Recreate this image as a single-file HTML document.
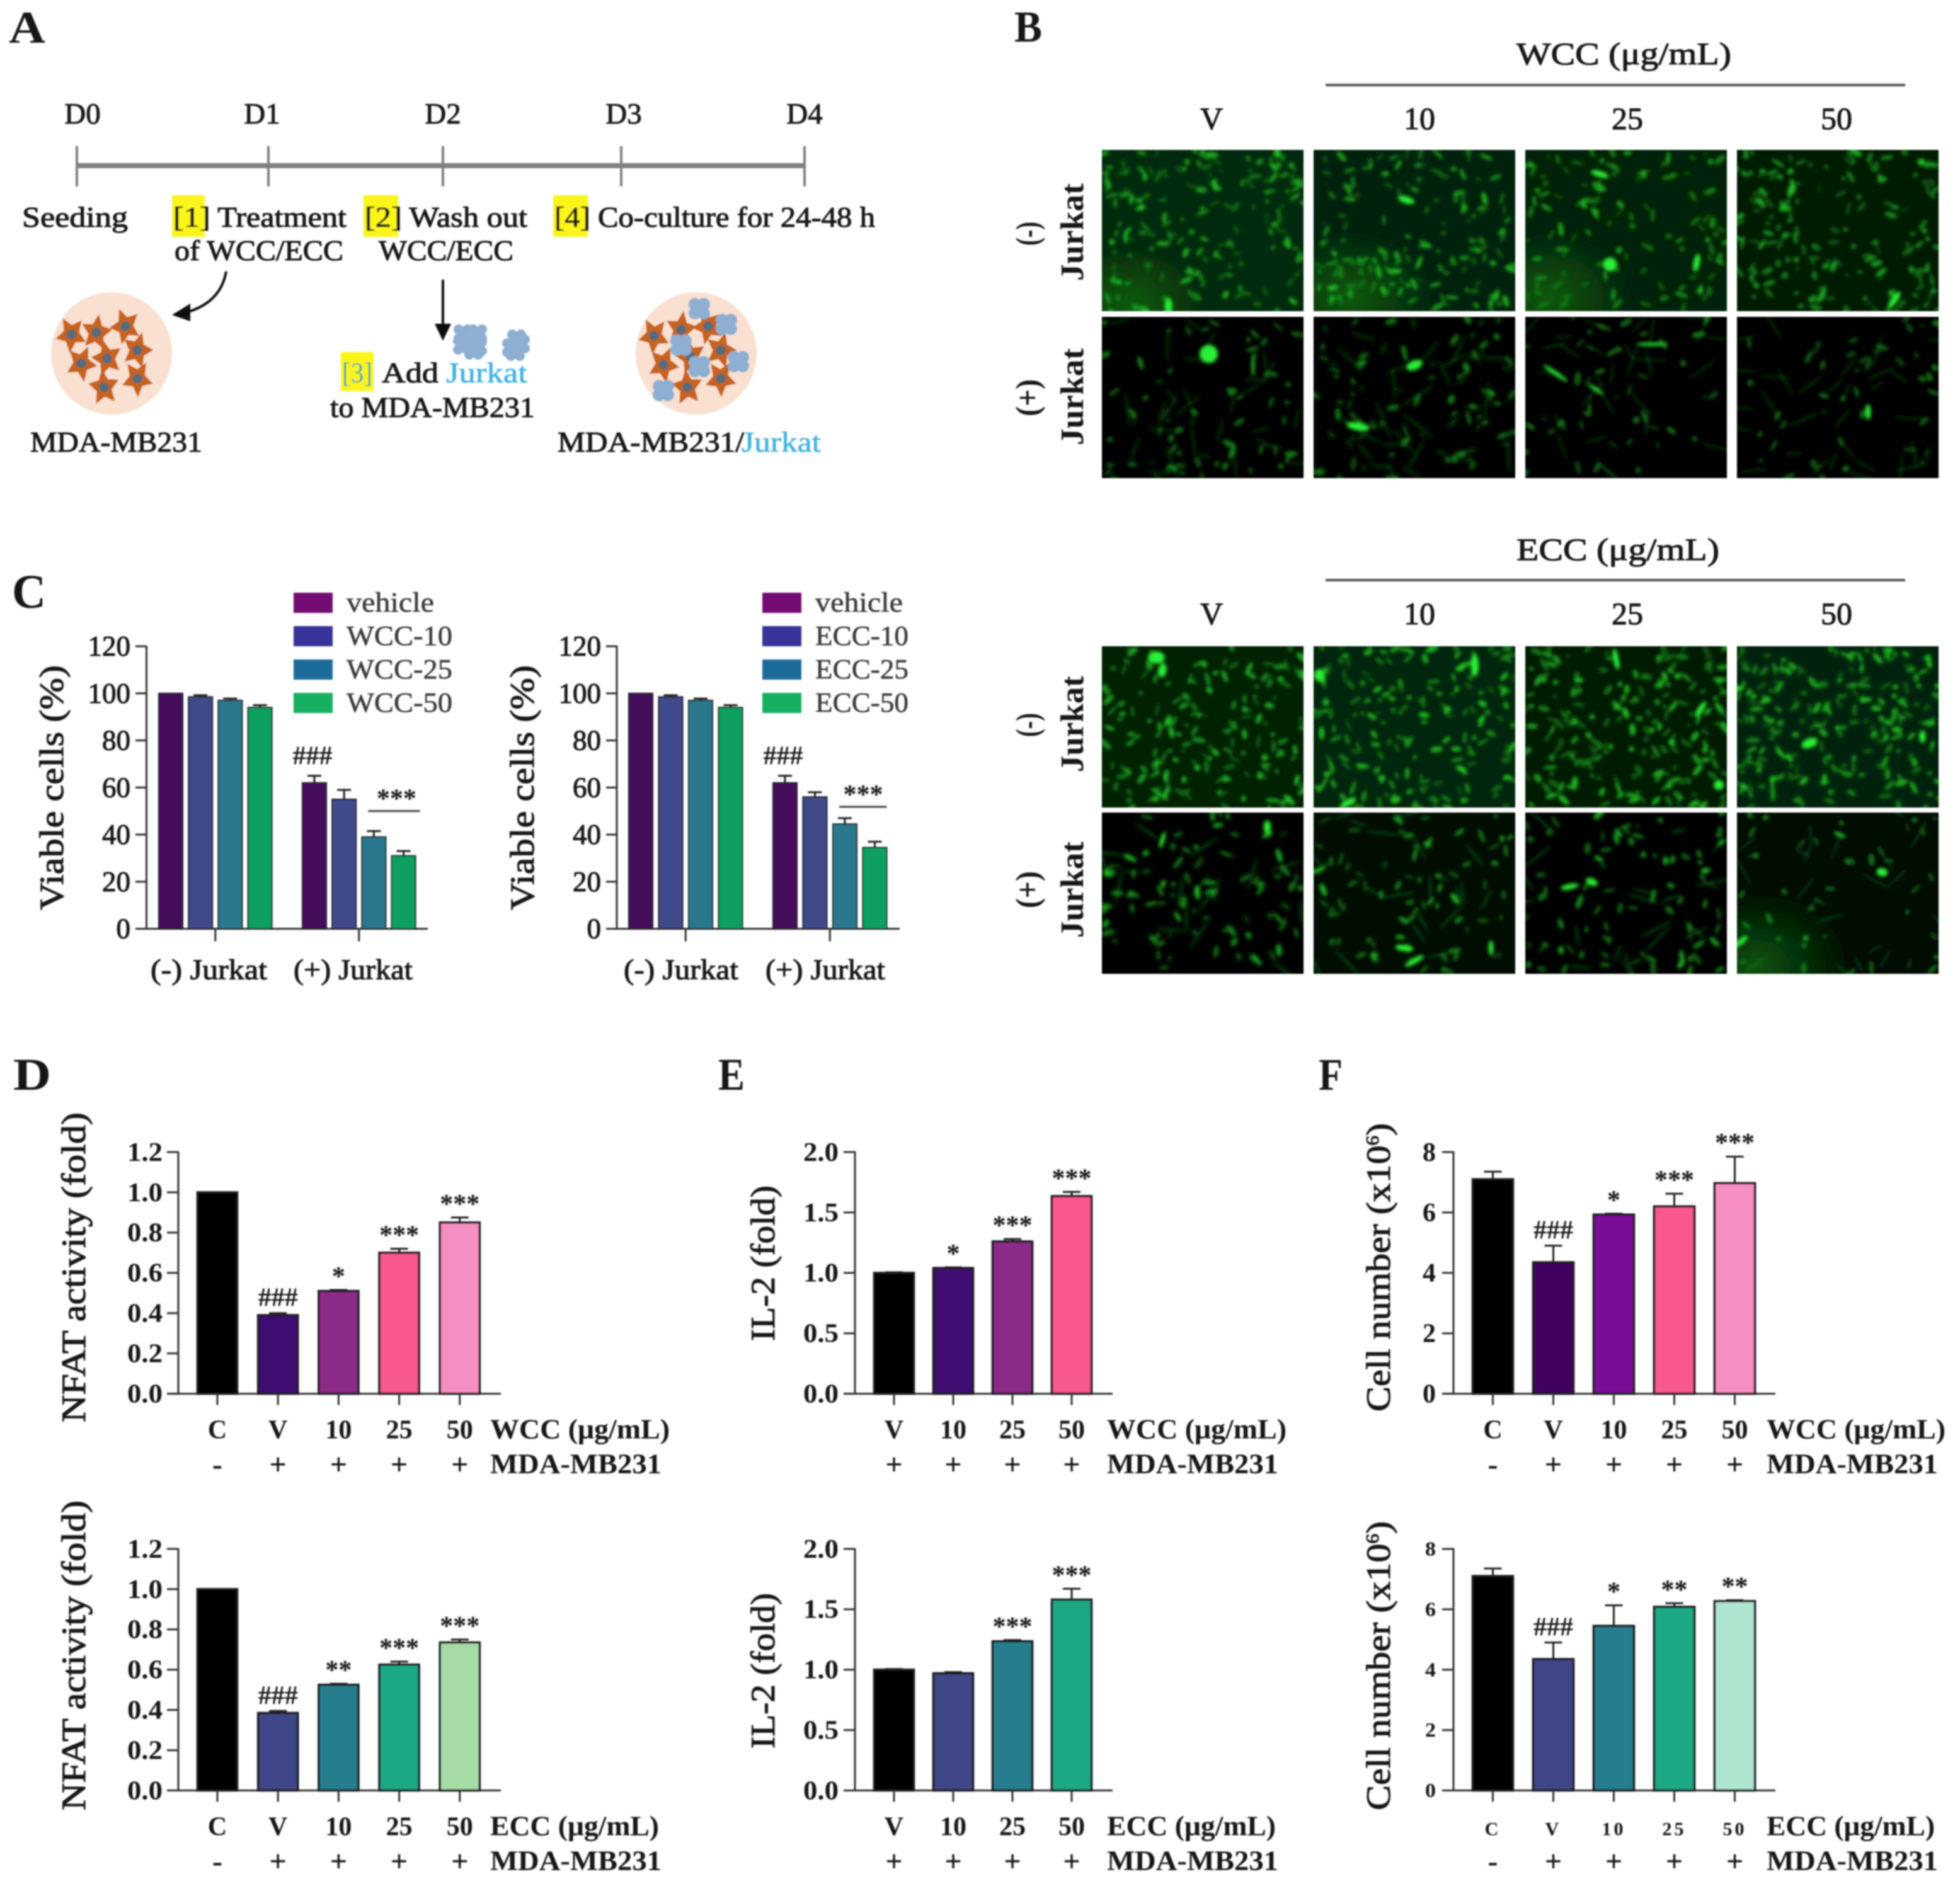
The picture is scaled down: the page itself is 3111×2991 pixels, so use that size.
<!DOCTYPE html>
<html lang="en">
<head>
<meta charset="utf-8">
<title>WCC/ECC co-culture figure</title>
<style>
html,body{margin:0;padding:0;background:#fff;}
#figure{display:block;width:3111px;height:2991px;font-family:"Liberation Serif",serif;}
#figure text{font-family:"Liberation Serif",serif;fill:#161616;}
</style>
</head>
<body>
<svg id="figure" xmlns="http://www.w3.org/2000/svg" width="3111" height="2991" viewBox="0 0 3111 2991">
<defs>
<filter id="soft" x="-2%" y="-2%" width="104%" height="104%"><feGaussianBlur stdDeviation="1.1"/></filter>
<filter id="cellBlur" x="-5%" y="-5%" width="110%" height="110%"><feGaussianBlur stdDeviation="2.6"/></filter>
<radialGradient id="glowGrad"><stop offset="0" stop-color="#0c6a10" stop-opacity="0.75"/><stop offset="1" stop-color="#0c6a10" stop-opacity="0"/></radialGradient>
</defs>
<rect width="3111" height="2991" fill="#fff"/>
<g id="root" filter="url(#soft)">

<!-- Panel A -->
<g id="panelA">
<text x="14" y="68" font-size="72" font-weight="bold" textLength="58" lengthAdjust="spacingAndGlyphs">A</text>
<rect x="122" y="259" width="1155" height="8" fill="#808080"/>
<rect x="120" y="232" width="4" height="64" fill="#808080"/>
<rect x="424" y="232" width="4" height="64" fill="#808080"/>
<rect x="701" y="232" width="4" height="64" fill="#808080"/>
<rect x="984" y="232" width="4" height="64" fill="#808080"/>
<rect x="1275" y="232" width="4" height="64" fill="#808080"/>
<g font-size="47" text-anchor="middle" stroke="#161616" stroke-width="0.9">
<text x="131" y="196">D0</text>
<text x="416" y="196">D1</text>
<text x="703" y="196">D2</text>
<text x="990" y="196">D3</text>
<text x="1277" y="196">D4</text>
</g>
<rect x="273" y="310" width="52" height="66" fill="#fbf51a"/>
<rect x="577" y="310" width="55" height="66" fill="#fbf51a"/>
<rect x="878" y="310" width="55" height="66" fill="#fbf51a"/>
<rect x="541" y="559" width="52" height="62" fill="#fbf51a"/>
<g font-size="46" stroke="#161616" stroke-width="1">
<text x="35" y="360" textLength="168" lengthAdjust="spacingAndGlyphs">Seeding</text>
<text x="275" y="360" textLength="275" lengthAdjust="spacingAndGlyphs">[1] Treatment</text>
<text x="277" y="413" textLength="268" lengthAdjust="spacingAndGlyphs">of WCC/ECC</text>
<text x="579" y="360" textLength="258" lengthAdjust="spacingAndGlyphs">[2] Wash out</text>
<text x="601" y="413" textLength="214" lengthAdjust="spacingAndGlyphs">WCC/ECC</text>
<text x="880" y="360" textLength="509" lengthAdjust="spacingAndGlyphs">[4] Co-culture for 24-48 h</text>
<text x="543" y="607" textLength="48" lengthAdjust="spacingAndGlyphs" style="fill:#27a3a8" stroke="none">[3]</text>
<text x="606" y="607" textLength="90" lengthAdjust="spacingAndGlyphs">Add</text>
<text x="708" y="607" textLength="129" lengthAdjust="spacingAndGlyphs" style="fill:#3fb2e2" stroke="#3fb2e2" stroke-width="0.6">Jurkat</text>
<text x="524" y="662" textLength="325" lengthAdjust="spacingAndGlyphs">to MDA-MB231</text>
<text x="48" y="717" textLength="273" lengthAdjust="spacingAndGlyphs">MDA-MB231</text>
<text x="885" y="717" textLength="296" lengthAdjust="spacingAndGlyphs">MDA-MB231/</text>
<text x="1177" y="717" textLength="126" lengthAdjust="spacingAndGlyphs" style="fill:#3fb2e2" stroke="#3fb2e2" stroke-width="0.6">Jurkat</text>
</g>
<path d="M359 431 Q350 482 292 497" fill="none" stroke="#111" stroke-width="4"/>
<polygon points="273,500 302,482 302,510" fill="#111"/>
<line x1="703" y1="444" x2="703" y2="520" stroke="#111" stroke-width="4"/>
<polygon points="703,541 690,514 716,514" fill="#111"/>
<ellipse cx="177" cy="561" rx="96" ry="97" fill="#f9e0d0"/>
<ellipse cx="1105" cy="561" rx="96" ry="97" fill="#f9e0d0"/>
</g>

<!-- Panel B static labels -->
<g id="panelB">
<text x="1610" y="66" font-size="70" font-weight="bold" textLength="44" lengthAdjust="spacingAndGlyphs">B</text>
<g font-size="50" stroke="#161616" stroke-width="1">
<text x="2407" y="102" textLength="341" lengthAdjust="spacingAndGlyphs">WCC (μg/mL)</text>
<text x="2407" y="889" textLength="322" lengthAdjust="spacingAndGlyphs">ECC (μg/mL)</text>
<g text-anchor="middle">
<text x="1923" y="205">V</text>
<text x="2253" y="205">10</text>
<text x="2583" y="205">25</text>
<text x="2915" y="205">50</text>
<text x="1923" y="991">V</text>
<text x="2253" y="991">10</text>
<text x="2583" y="991">25</text>
<text x="2915" y="991">50</text>
</g>
</g>
<rect x="2104" y="133" width="920" height="4" fill="#555"/>
<rect x="2104" y="919" width="920" height="4" fill="#555"/>
<g font-size="52" font-weight="bold">
<text transform="translate(1648 390) rotate(-90)" textLength="38" lengthAdjust="spacingAndGlyphs">(-)</text>
<text transform="translate(1719 446) rotate(-90)" textLength="155" lengthAdjust="spacingAndGlyphs">Jurkat</text>
<text transform="translate(1648 661) rotate(-90)" textLength="59" lengthAdjust="spacingAndGlyphs">(+)</text>
<text transform="translate(1719 707) rotate(-90)" textLength="154" lengthAdjust="spacingAndGlyphs">Jurkat</text>
<text transform="translate(1648 1170) rotate(-90)" textLength="38" lengthAdjust="spacingAndGlyphs">(-)</text>
<text transform="translate(1719 1226) rotate(-90)" textLength="153" lengthAdjust="spacingAndGlyphs">Jurkat</text>
<text transform="translate(1648 1442) rotate(-90)" textLength="59" lengthAdjust="spacingAndGlyphs">(+)</text>
<text transform="translate(1719 1489) rotate(-90)" textLength="153" lengthAdjust="spacingAndGlyphs">Jurkat</text>
</g>
</g>

<g font-weight="bold">
<text x="19" y="965" font-size="76" textLength="54" lengthAdjust="spacingAndGlyphs">C</text>
<text x="21" y="1730" font-size="72" textLength="60" lengthAdjust="spacingAndGlyphs">D</text>
<text x="1140" y="1730" font-size="72" textLength="42" lengthAdjust="spacingAndGlyphs">E</text>
<text x="2093" y="1730" font-size="72" textLength="38" lengthAdjust="spacingAndGlyphs">F</text>
</g>
<g id="charts"></g>
</g>
</svg>

<script>
// ---- Panel C data ----
const cYTicks = [0, 20, 40, 60, 80, 100, 120];
const cGroups = ['(-) Jurkat', '(+) Jurkat'];
const cWccLegend = ['vehicle', 'WCC-10', 'WCC-25', 'WCC-50'];
const cEccLegend = ['vehicle', 'ECC-10', 'ECC-25', 'ECC-50'];
const cWccValues = [100, 98.5, 97, 94, 62, 55, 39, 31];
const cWccErrors = [0, 0.7, 0.8, 1, 3, 4, 2.5, 2];
const cEccValues = [100, 98.5, 97, 94, 62, 56, 44.5, 34.5];
const cEccErrors = [0, 0.7, 0.8, 1, 3, 2, 2.5, 2.5];
const cWccSigLevel = 50;
const cEccSigLevel = 51.8;

// ---- Panel D data ----
const dTicks = [0, 0.2, 0.4, 0.6, 0.8, 1.0, 1.2];
const dTickLabels = ['0.0', '0.2', '0.4', '0.6', '0.8', '1.0', '1.2'];
const dCategories = ['C', 'V', '10', '25', '50'];
const dMdaSigns = ['-', '+', '+', '+', '+'];
const dWccValues = [1, 0.39, 0.51, 0.70, 0.85];
const dWccErrors = [0, 0.01, 0.005, 0.02, 0.025];
const dWccSig = ['', '###', '*', '***', '***'];
const dEccValues = [1, 0.385, 0.525, 0.625, 0.735];
const dEccErrors = [0, 0.01, 0.005, 0.015, 0.015];
const dEccSig = ['', '###', '**', '***', '***'];

// ---- Panel E data ----
const eTicks = [0, 0.5, 1.0, 1.5, 2.0];
const eTickLabels = ['0.0', '0.5', '1.0', '1.5', '2.0'];
const eCategories = ['V', '10', '25', '50'];
const eMdaSigns = ['+', '+', '+', '+'];
const eWccValues = [1.0, 1.04, 1.26, 1.635];
const eWccErrors = [0.005, 0.005, 0.02, 0.035];
const eWccSig = ['', '*', '***', '***'];
const eEccValues = [1.0, 0.97, 1.235, 1.58];
const eEccErrors = [0.005, 0.01, 0.01, 0.09];
const eEccSig = ['', '', '***', '***'];

// ---- Panel F data ----
const fTicks = [0, 2, 4, 6, 8];
const fTickLabels = ['0', '2', '4', '6', '8'];
const fCategories = ['C', 'V', '10', '25', '50'];
const fMdaSigns = ['-', '+', '+', '+', '+'];
const fWccValues = [7.1, 4.35, 5.93, 6.2, 6.97];
const fWccErrors = [0.25, 0.55, 0.03, 0.42, 0.88];
const fWccSig = ['', '###', '*', '***', '***'];
const fEccValues = [7.1, 4.35, 5.45, 6.08, 6.27];
const fEccErrors = [0.25, 0.55, 0.68, 0.12, 0.03];
const fEccSig = ['', '###', '*', '**', '**'];

// ---- Colours ----
const wccColors = ['#000000', '#3f0f73', '#8c2a87', '#f9598f', '#f58fc2'];
const eccColors = ['#000000', '#3f4788', '#287d8e', '#1fa884', '#a5dca5'];
const fWccColors = ['#000000', '#420060', '#7a0a96', '#f9598f', '#f58fc2'];
const fEccColors = ['#000000', '#3f4788', '#287d8e', '#1fa884', '#aee5cf'];
const cBarColors = ['#44085c', '#3f4a8a', '#2a788e', '#10a060'];
const cLegendColors = ['#730a73', '#37329b', '#1a6a9a', '#12b060'];

const SVGNS = 'http://www.w3.org/2000/svg';
const charts = document.getElementById('charts');
const AXIS = '#333';

function mk(parent, tag, props) {
  const el = document.createElementNS(SVGNS, tag);
  for (const k in props) el.setAttribute(k, props[k]);
  parent.appendChild(el);
  return el;
}
function txt(parent, str, x, y, props) {
  const el = mk(parent, 'text', Object.assign({ x: x, y: y }, props));
  el.textContent = str;
  return el;
}

function drawSigMark(g, label, cx, errTopY) {
  const isHash = label.charAt(0) === '#';
  const baseline = isHash ? errTopY - 11 : errTopY - 8;
  const mark = txt(g, label, cx, baseline, { 'text-anchor': 'middle', 'font-size': 42, 'font-weight': 'bold' });
  
  
}

function drawErrorBar(g, cx, yVal, yErr, capHalf) {
  const stem = mk(g, 'line', { x1: cx, x2: cx, y1: yVal, y2: yErr, stroke: '#222', 'stroke-width': 3 });
  
  
  const cap = mk(g, 'line', { x1: cx - capHalf, x2: cx + capHalf, y1: yErr, y2: yErr, stroke: '#222', 'stroke-width': 3 });
  
  
}

function drawBarChart(o) {
  const g = mk(charts, 'g', {});
  
  
  const yScale = v => o.y0 - (v / o.max) * (o.y0 - o.yTop);
  const xScale = i => o.x0 + o.step * i;

  const yAxis = mk(g, 'line', { x1: o.axisX, x2: o.axisX, y1: o.yTop - 1, y2: o.y0, stroke: AXIS, 'stroke-width': 3 });
  
  
  const xAxis = mk(g, 'line', { x1: o.tickLeft, x2: o.xEnd, y1: o.y0, y2: o.y0, stroke: AXIS, 'stroke-width': 3 });
  
  

  o.ticks.forEach((t, i) => {
    const y = yScale(t);
    const tk = mk(g, 'line', { x1: o.tickLeft, x2: o.axisX, y1: y, y2: y, stroke: AXIS, 'stroke-width': 3 });
    
    
    const lb = txt(g, o.tickLabels[i], o.tickEnd - o.tickWidth, y + o.tickFont * 0.33, {
      'font-size': o.tickFont, 'font-weight': 'bold', textLength: o.tickWidth, lengthAdjust: 'spacingAndGlyphs'
    });
    
    
  });

  o.values.forEach((v, i) => {
    const cx = xScale(i);
    const yv = yScale(v);
    const ye = yScale(v + o.errors[i]);
    if (o.errors[i] > 0) drawErrorBar(g, cx, yv, ye, 14);
    const bar = mk(g, 'rect', {
      x: cx - o.barW / 2, y: yv, width: o.barW, height: o.y0 - yv,
      fill: o.colors[i], stroke: '#1c1c1c', 'stroke-width': 3.5
    });
    
    
    if (o.sig[i]) drawSigMark(g, o.sig[i], cx, ye);
    const tk = mk(g, 'line', { x1: cx, x2: cx, y1: o.y0, y2: o.y0 + 18, stroke: AXIS, 'stroke-width': 3 });
    
    
    const cat = txt(g, o.categories[i], cx, o.y0 + 71, {
      'text-anchor': 'middle', 'font-size': o.catFont, 'font-weight': 'bold', 'letter-spacing': o.catSpacing
    });
    
    
    const sign = txt(g, o.signs[i], cx, o.y0 + 128, { 'text-anchor': 'middle', 'font-size': 48, 'font-weight': 'bold' });
    
    
  });

  const dose = txt(g, o.doseLabel, o.labelX, o.y0 + 71, {
    'font-size': 44, 'font-weight': 'bold', textLength: o.doseWidth, lengthAdjust: 'spacingAndGlyphs'
  });
  
  
  const mda = txt(g, 'MDA-MB231', o.labelX, o.y0 + 126, {
    'font-size': 44, 'font-weight': 'bold', textLength: o.mdaWidth, lengthAdjust: 'spacingAndGlyphs'
  });
  
  

  const title = mk(g, 'text', {
    transform: 'translate(' + o.titleX + ' ' + o.titleBottom + ') rotate(-90)',
    'font-size': 54, stroke: '#161616', 'stroke-width': 1,
    textLength: o.titleLen, lengthAdjust: 'spacingAndGlyphs'
  });
  
  
  title.textContent = o.title;
  if (o.titleSup) {
    const sup = mk(title, 'tspan', { 'font-size': 28, dy: -18 });
    sup.textContent = o.titleSup;
    const close = mk(title, 'tspan', { dy: 18 });
    close.textContent = ')';
  }
}

function drawGroupedChart(o) {
  const g = mk(charts, 'g', {});
  
  
  const yScale = v => o.y0 - (v / 120) * (o.y0 - o.yTop);
  const xScale = i => (i < 4 ? o.x0 + o.step * i : o.x1 + o.step * (i - 4));

  const yAxis = mk(g, 'line', { x1: o.axisX, x2: o.axisX, y1: o.yTop - 1, y2: o.y0, stroke: AXIS, 'stroke-width': 3 });
  
  
  const xAxis = mk(g, 'line', { x1: o.tickLeft, x2: o.xEnd, y1: o.y0, y2: o.y0, stroke: AXIS, 'stroke-width': 3 });
  
  

  cYTicks.forEach(t => {
    const y = yScale(t);
    const tk = mk(g, 'line', { x1: o.tickLeft, x2: o.axisX, y1: y, y2: y, stroke: AXIS, 'stroke-width': 3 });
    
    
    const lb = txt(g, String(t), o.tickLeft - 8, y + 15, { 'text-anchor': 'end', 'font-size': 45, stroke: '#161616', 'stroke-width': 1 });
    
    
  });

  o.values.forEach((v, i) => {
    const cx = xScale(i);
    const yv = yScale(v);
    const ye = yScale(v + o.errors[i]);
    if (o.errors[i] > 0) drawErrorBar(g, cx, yv, ye, 11);
    const bar = mk(g, 'rect', {
      x: cx - 19, y: yv, width: 38, height: o.y0 - yv,
      fill: cBarColors[i % 4], stroke: '#222', 'stroke-width': 2
    });
    
    
  });

  cGroups.forEach((name, i) => {
    const cx = (xScale(i * 4) + xScale(i * 4 + 3)) / 2;
    const tk = mk(g, 'line', { x1: cx, x2: cx, y1: o.y0, y2: o.y0 + 20, stroke: AXIS, 'stroke-width': 3 });
    
    
    const lb = txt(g, name, o.groupStart[i], o.y0 + 80, {
      'font-size': 46, stroke: '#161616', 'stroke-width': 1,
      textLength: o.groupWidth[i], lengthAdjust: 'spacingAndGlyphs'
    });
    
    
  });

  const hash = txt(g, '###', xScale(4) - 3, yScale(o.values[4] + o.errors[4]) - 18, { 'text-anchor': 'middle', 'font-size': 42, 'font-weight': 'bold' });
  
  
  const ly = yScale(o.sigLevel);
  const bracket = mk(g, 'line', { x1: xScale(6) - 9, x2: xScale(7) + 26 + o.bracketShift, y1: ly, y2: ly, stroke: '#444', 'stroke-width': 3 });
  
  
  const stars = txt(g, '***', xScale(6) + 36 + o.bracketShift, ly - 6, { 'text-anchor': 'middle', 'font-size': 42, 'font-weight': 'bold' });
  
  

  o.legend.forEach((name, i) => {
    const sw = mk(g, 'rect', { x: o.legendX, y: o.legendY + 53 * i, width: 62, height: 32, fill: cLegendColors[i] });
    
    
    const lb = txt(g, name, o.legendX + 84, o.legendY + 30 + 53 * i, {
      'font-size': 44, stroke: '#3a3a3a', 'stroke-width': 0.6,
      textLength: i === 0 ? 139 : o.legendW, lengthAdjust: 'spacingAndGlyphs'
    });
    lb.style.fill = '#3a3a3a';
    
    
  });

  const title = mk(g, 'text', {
    transform: 'translate(' + o.titleX + ' 1445) rotate(-90)',
    'font-size': 54, stroke: '#161616', 'stroke-width': 1,
    textLength: 389, lengthAdjust: 'spacingAndGlyphs'
  });
  
  
  title.textContent = 'Viable cells (%)';
}

drawGroupedChart({ name: 'chart-c-wcc', values: cWccValues, errors: cWccErrors, legend: cWccLegend, sigLevel: cWccSigLevel,
  axisX: 232.5, tickLeft: 215, xEnd: 679, y0: 1474.5, yTop: 1026, x0: 271, x1: 499, step: 47.2, bracketShift: 0,
  groupStart: [239, 466], groupWidth: [185, 189],
  legendX: 466, legendY: 941, legendW: 168, titleX: 100 });
drawGroupedChart({ name: 'chart-c-ecc', values: cEccValues, errors: cEccErrors, legend: cEccLegend, sigLevel: cEccSigLevel,
  axisX: 979, tickLeft: 962, xEnd: 1428, y0: 1474.5, yTop: 1026, x0: 1017, x1: 1246, step: 47.5, bracketShift: -7,
  groupStart: [990, 1215], groupWidth: [182, 190],
  legendX: 1210, legendY: 941, legendW: 148, titleX: 847 });

const dBase = { axisX: 283, tickLeft: 265, xEnd: 795, x0: 345, step: 96.2, barW: 63, max: 1.2, ticks: dTicks, tickLabels: dTickLabels,
  tickEnd: 258, tickWidth: 56, tickFont: 42, categories: dCategories, signs: dMdaSigns, catFont: 42, catSpacing: 0,
  labelX: 778, mdaWidth: 272, title: 'NFAT activity (fold)', titleX: 135, titleLen: 492 };
drawBarChart(Object.assign({}, dBase, { name: 'chart-d-wcc', y0: 2212.6, yTop: 1829, values: dWccValues, errors: dWccErrors, sig: dWccSig, colors: wccColors, doseLabel: 'WCC (μg/mL)', doseWidth: 285, titleBottom: 2258 }));
drawBarChart(Object.assign({}, dBase, { name: 'chart-d-ecc', y0: 2842.5, yTop: 2459, values: dEccValues, errors: dEccErrors, sig: dEccSig, colors: eccColors, doseLabel: 'ECC (μg/mL)', doseWidth: 268, titleBottom: 2874 }));

const eBase = { axisX: 1357, tickLeft: 1339, xEnd: 1766, x0: 1419, step: 94, barW: 63, max: 2, ticks: eTicks, tickLabels: eTickLabels,
  tickEnd: 1331, tickWidth: 56, tickFont: 42, categories: eCategories, signs: eMdaSigns, catFont: 42, catSpacing: 0,
  labelX: 1757, mdaWidth: 272, title: 'IL-2 (fold)', titleX: 1229, titleLen: 247 };
drawBarChart(Object.assign({}, eBase, { name: 'chart-e-wcc', y0: 2212.6, yTop: 1829, values: eWccValues, errors: eWccErrors, sig: eWccSig, colors: wccColors, doseLabel: 'WCC (μg/mL)', doseWidth: 285, titleBottom: 2129 }));
drawBarChart(Object.assign({}, eBase, { name: 'chart-e-ecc', y0: 2842.5, yTop: 2459, values: eEccValues, errors: eEccErrors, sig: eEccSig, colors: eccColors, doseLabel: 'ECC (μg/mL)', doseWidth: 268, titleBottom: 2776 }));

const fBase = { axisX: 2307, tickLeft: 2289, xEnd: 2818, x0: 2369.5, step: 96, barW: 64, max: 8, ticks: fTicks, tickLabels: fTickLabels,
  tickEnd: 2279, signs: fMdaSigns, categories: fCategories, labelX: 2804, mdaWidth: 272, title: 'Cell number (x10', titleSup: '6', titleX: 2206 };
drawBarChart(Object.assign({}, fBase, { name: 'chart-f-wcc', y0: 2212.6, yTop: 1829, values: fWccValues, errors: fWccErrors, sig: fWccSig, colors: fWccColors, tickWidth: 21, tickFont: 42, catFont: 42, catSpacing: 0, doseLabel: 'WCC (μg/mL)', doseWidth: 284, titleBottom: 2241, titleLen: 458 }));
drawBarChart(Object.assign({}, fBase, { name: 'chart-f-ecc', y0: 2842.5, yTop: 2459, values: fEccValues, errors: fEccErrors, sig: fEccSig, colors: fEccColors, tickWidth: 17, tickFont: 32, catFont: 30, catSpacing: 4, doseLabel: 'ECC (μg/mL)', doseWidth: 267, titleBottom: 2874, titleLen: 459 }));

// ---- Panel A illustrated cells ----
const panelA = document.getElementById('panelA');
const dishOneCells = [[113,531],[153,528],[199,518],[218,556],[170,569],[129,577],[165,615],[218,601]];
const dishTwoCells = [[1038,533],[1081,523],[1124,518],[1144,556],[1096,566],[1053,579],[1091,615],[1144,601]];
const dishTwoJurkat = [[1110,490],[1153,515],[1081,548],[1110,582],[1172,574],[1053,620]];
const freeJurkat = [[735,530],[758,530],[734,548],[758,550],[752,556],[820,538],[812,552],[826,546],[818,558]];

function drawCancerCell(cx, cy, rot) {
  let pts = '';
  for (let i = 0; i < 10; i++) {
    const r = i % 2 ? 15 : 30;
    const a = rot + i * Math.PI / 5;
    pts += (cx + r * 0.85 * Math.cos(a)).toFixed(1) + ',' + (cy + r * Math.sin(a)).toFixed(1) + ' ';
  }
  const body = mk(panelA, 'polygon', { points: pts, fill: '#c8621e' });
  
  
  const nucleus = mk(panelA, 'circle', { cx: cx, cy: cy, r: 8, fill: '#5c6b78' });
  
  
}
function drawJurkatBlob(cx, cy, r) {
  const offs = [[-7,-7],[7,-7],[-7,7],[7,7],[0,0]];
  offs.forEach(o => {
    const c = mk(panelA, 'circle', { cx: cx + o[0], cy: cy + o[1], r: r, fill: '#8eafd2' });
    
    
  });
}
dishOneCells.forEach((p, i) => drawCancerCell(p[0], p[1], i * 0.7 + 0.4));
dishTwoCells.forEach((p, i) => drawCancerCell(p[0], p[1], i * 0.7 + 0.4));
dishTwoJurkat.forEach(p => drawJurkatBlob(p[0], p[1], 10));
freeJurkat.forEach(p => drawJurkatBlob(p[0], p[1], 8));

// ---- Panel B micrograph texture (decorative photo stand-in, not chart data) ----
const panelB = document.getElementById('panelB');
const colX = [1749, 2085, 2421, 2757];
const panelW = 320;
const panelH = 256;
const micrographs = [
  { y: 238, row: 'wcc-minus', n: [170, 150, 110, 175], bg: ['#062a09', '#042207', '#052407', '#031c05'], amp: 0.8, thin: 0,
    glow: [[0.15, 0.95, 0.35], [0.18, 0.92, 0.42], [0.12, 0.92, 0.4], null],
    bright: [[[0.33, 0.97, 10, 22, 0]], [[0.46, 0.31, 22, 9, 0.3]], [[0.42, 0.71, 18, 18, 0], [0.37, 0.15, 24, 8, 0.3], [0.85, 0.7, 8, 24, 0.2]], [[0.78, 0.93, 8, 26, 0.6]]] },
  { y: 503, row: 'wcc-plus', n: [65, 85, 45, 45], bg: ['#000300', '#010601', '#000200', '#000200'], amp: 0.65, thin: 30,
    glow: [null, null, null, null],
    bright: [[[0.53, 0.23, 24, 24, 0], [0.75, 0.3, 3, 30, 0]], [[0.5, 0.3, 22, 12, -0.4], [0.22, 0.68, 30, 10, 0.2]], [[0.63, 0.17, 42, 4, 0], [0.15, 0.35, 38, 5, 0.6], [0.35, 0.45, 24, 4, 0.6]], [[0.65, 0.59, 7, 20, 0]]] },
  { y: 1026, row: 'ecc-minus', n: [175, 190, 210, 225], bg: ['#042006', '#052607', '#031c04', '#052407'], amp: 0.9, thin: 0,
    glow: [null, null, null, null],
    bright: [[[0.27, 0.07, 22, 16, 0], [0.3, 0.15, 11, 18, 0.2]], [[0.8, 0.12, 10, 28, 0], [0.03, 0.18, 14, 16, 0], [0.17, 0.97, 24, 8, -0.5]], [[0.45, 0.08, 7, 28, -0.2], [0.87, 0.39, 7, 24, 0.6], [0.96, 0.86, 13, 13, 0]], [[0.36, 0.6, 22, 12, -0.4], [0.92, 0.56, 8, 16, 0]]] },
  { y: 1290, row: 'ecc-plus', n: [85, 80, 80, 40], bg: ['#000500', '#010e01', '#000400', '#010801'], amp: 0.85, thin: 20,
    glow: [null, null, null, [0.1, 0.95, 0.5]],
    bright: [[[0.82, 0.09, 9, 17, 0], [0.3, 0.17, 5, 22, 0.3]], [[0.5, 0.92, 28, 7, -0.5], [0.45, 0.84, 24, 8, 0.1], [0.88, 0.84, 6, 20, 0]], [[0.22, 0.46, 24, 7, -0.2], [0.33, 0.43, 16, 9, 0.4]], [[0.72, 0.37, 15, 11, 0.2], [0.02, 0.8, 22, 7, -0.7]]] }
];
let seed = 20240611;
function rnd() {
  seed = (seed + 0x6D2B79F5) | 0;
  let t = Math.imul(seed ^ (seed >>> 15), 1 | seed);
  t = (t + Math.imul(t ^ (t >>> 7), 61 | t)) ^ t;
  return ((t ^ (t >>> 14)) >>> 0) / 4294967296;
}
function drawCellMark(parent, x, y, rx, ry, deg, fill, op) {
  const c = mk(parent, 'ellipse', { cx: x.toFixed(1), cy: y.toFixed(1), rx: rx.toFixed(1), ry: ry.toFixed(1),
    transform: 'rotate(' + deg.toFixed(0) + ' ' + x.toFixed(1) + ' ' + y.toFixed(1) + ')', fill: fill, opacity: op.toFixed(2) });
  
  
}
micrographs.forEach(row => {
  colX.forEach((x, ci) => {
    const frame = mk(panelB, 'svg', { x: x, y: row.y, width: panelW, height: panelH, viewBox: '0 0 ' + panelW + ' ' + panelH, overflow: 'hidden' });
    
    
    const bg = mk(frame, 'rect', { width: panelW, height: panelH, fill: row.bg[ci] });
    
    
    const gl = row.glow[ci];
    if (gl) {
      const glow = mk(frame, 'ellipse', { cx: gl[0] * panelW, cy: gl[1] * panelH, rx: gl[2] * panelW, ry: gl[2] * panelH, fill: 'url(#glowGrad)' });
      
      
    }
    const g = mk(frame, 'g', { filter: 'url(#cellBlur)' });
    
    
    for (let i = 0; i < row.thin; i++) {
      drawCellMark(g, rnd() * panelW, rnd() * panelH, 1.6, 12 + rnd() * 18, rnd() * 180, '#1fc028', 0.45 * row.amp);
    }
    for (let i = 0; i < row.n[ci]; i++) {
      const px = rnd() * panelW;
      const py = rnd() * panelH;
      const len = 3.5 + rnd() * 8;
      const wid = 2 + rnd() * 2.6;
      const op = (0.25 + rnd() * 0.75) * row.amp;
      drawCellMark(g, px, py, wid, len, rnd() * 180, '#20d82a', op);
    }
    row.bright[ci].forEach(b => {
      drawCellMark(g, b[0] * panelW, b[1] * panelH, b[2] * 0.6, b[3] * 0.6, b[4] * 57.3, '#2cf036', 1);
    });
  });
});
</script>
</body>
</html>
